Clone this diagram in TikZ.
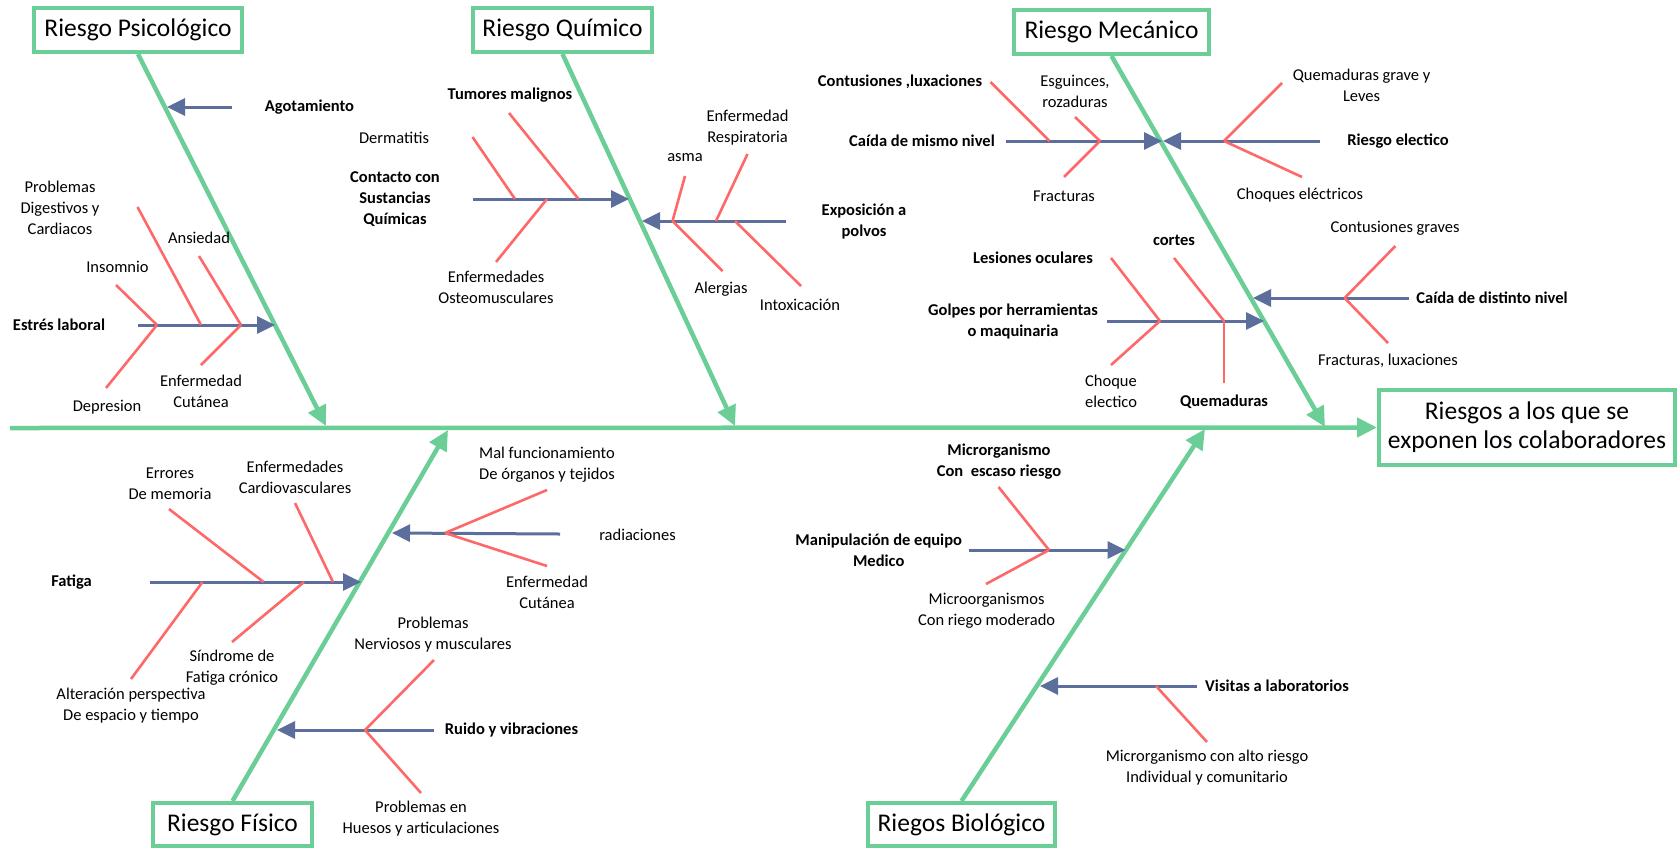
\documentclass[tikz,border=0pt]{standalone}
\usepackage{fontspec}
\setmainfont{Carlito}
\usetikzlibrary{arrows.meta}
\definecolor{bonegreen}{RGB}{106,206,150}
\definecolor{causeblue}{RGB}{92,110,155}
\definecolor{subred}{RGB}{255,104,104}
\tikzset{
  catbox/.style={draw=bonegreen, line width=4pt, fill=white, inner sep=0pt, font=\fontsize{25.5}{29}\selectfont, align=center},
  bone/.style={draw=bonegreen, line width=4.5pt, -{Triangle[length=20pt,width=19pt]}},
  cause/.style={draw=causeblue, line width=3pt, -{Triangle[length=18pt,width=17pt]}},
  sub/.style={draw=subred, line width=2.6pt},
  lbl/.style={font=\fontsize{16.5}{21}\selectfont, align=center, inner sep=0pt},
  blbl/.style={font=\bfseries\fontsize{16.5}{21}\selectfont, align=center, inner sep=0pt},
}
\begin{document}
\begin{tikzpicture}[x=1pt,y=-1pt]
\useasboundingbox (0,0) rectangle (1677,847);
% ---------- category boxes ----------
\node[catbox, minimum width=208pt, minimum height=44pt] (psi) at (138,30) {Riesgo Psicológico};
\node[catbox, minimum width=179pt, minimum height=44pt] (qui) at (562.5,30) {Riesgo Químico};
\node[catbox, minimum width=195pt, minimum height=44pt] (mec) at (1111.5,32) {Riesgo Mecánico};
\node[catbox, minimum width=159pt, minimum height=43pt] (fis) at (232.5,824.5) {Riesgo Físico};
\node[catbox, minimum width=187pt, minimum height=43pt] (bio) at (961.5,824.5) {Riegos Biológico};
\node[catbox, minimum width=296pt, minimum height=75pt] (main) at (1527,427.5) {Riesgos a los que se\\exponen los colaboradores};
% ---------- spine and bones ----------
\coordinate (spL) at (10,428);
\coordinate (psiT) at (326,426);
\coordinate (quiT) at (735,426);
\coordinate (mecT) at (1325,427);
\coordinate (fisT) at (448,430);
\coordinate (bioT) at (1205,429);
\draw[bone] (spL) -- (main.west);
\draw[bone] (psi.south) -- (psiT);
\draw[bone] (qui.south) -- (quiT);
\draw[bone] (mec.south) -- (mecT);
\draw[bone] (fis.north) -- (fisT);
\draw[bone] (bio.north) -- (bioT);
% ================= Psicologico =================
\node[blbl] (ago) at (309.5,107) {Agotamiento};
\coordinate (agoS) at (232,107); \coordinate (agoT) at (167,107);
\draw[cause] (agoS) -- (agoT);
\node[blbl] (est) at (59,325) {Estrés laboral};
\coordinate (estS) at (137.5,325); \coordinate (estT) at (275,325);
\draw[cause] (estS) -- (estT);
\coordinate (j1) at (157,325); \coordinate (j2) at (201,325); \coordinate (j3) at (241,325);
\coordinate (insE) at (116,285); \coordinate (depE) at (106,388);
\coordinate (pdcE) at (137.5,207); \coordinate (ansE) at (199,256); \coordinate (ecuE) at (201,365);
\draw[sub] (j1) -- (insE); \draw[sub] (j1) -- (depE);
\draw[sub] (j2) -- (pdcE);
\draw[sub] (j3) -- (ansE); \draw[sub] (j3) -- (ecuE);
\node[lbl] (ins) at (117.5,267) {Insomnio};
\node[lbl] (dep) at (107,407) {Depresion};
\node[lbl] (pdc) at (60,208) {Problemas\\Digestivos y\\Cardiacos};
\node[lbl] (ans) at (199,238) {Ansiedad};
\node[lbl] (ecu) at (201,391) {Enfermedad\\Cutánea};
% ================= Quimico =================
\node[blbl] (con) at (395,199) {Contacto con\\Sustancias\\Químicas};
\coordinate (conS) at (473,199); \coordinate (conT) at (629,199);
\draw[cause] (conS) -- (conT);
\coordinate (k1) at (515,199); \coordinate (k2) at (547,199); \coordinate (k3) at (578.5,199);
\coordinate (derE) at (472.5,137); \coordinate (eosE) at (496,262); \coordinate (tumE) at (509,113);
\draw[sub] (k1) -- (derE); \draw[sub] (k2) -- (eosE); \draw[sub] (k3) -- (tumE);
\node[lbl] (der) at (394,138) {Dermatitis};
\node[lbl] (eos) at (496,287.5) {Enfermedades\\Osteomusculares};
\node[blbl] (tum) at (510,95) {Tumores malignos};
\node[blbl] (pol) at (864,221.5) {Exposición a\\polvos};
\coordinate (polS) at (786,221); \coordinate (polT) at (642,221);
\draw[cause] (polS) -- (polT);
\coordinate (m1) at (672.5,221); \coordinate (m2) at (716,221); \coordinate (m3) at (735,221);
\coordinate (asmE) at (685,176); \coordinate (aleE) at (722.5,271);
\coordinate (resE) at (747.5,154); \coordinate (intE) at (801,286);
\draw[sub] (m1) -- (asmE); \draw[sub] (m1) -- (aleE);
\draw[sub] (m2) -- (resE); \draw[sub] (m3) -- (intE);
\node[lbl] (asm) at (685,158) {asma};
\node[lbl] (ale) at (721,289) {Alergias};
\node[lbl] (res) at (747.5,128) {Enfermedad\\Respiratoria};
\node[lbl] (int) at (800,305) {Intoxicación};
% ================= Mecanico =================
\node[blbl] (cmn) at (922,141) {Caída de mismo nivel};
\coordinate (cmnS) at (1006,141); \coordinate (cmnT) at (1162,141);
\draw[cause] (cmnS) -- (cmnT);
\coordinate (n1) at (1049.5,141); \coordinate (n2) at (1100,141);
\coordinate (cluE) at (990.5,82); \coordinate (esgE) at (1075,117); \coordinate (fraE) at (1064,177);
\draw[sub] (n1) -- (cluE); \draw[sub] (n2) -- (esgE); \draw[sub] (n2) -- (fraE);
\node[blbl] (clu) at (900,82) {Contusiones ,luxaciones};
\node[lbl] (esg) at (1075,91.5) {Esguinces,\\rozaduras};
\node[lbl] (fra) at (1064,196) {Fracturas};
\node[blbl] (rel) at (1398,141) {Riesgo electico};
\coordinate (relS) at (1320,141); \coordinate (relT) at (1163,141);
\draw[cause] (relS) -- (relT);
\coordinate (p1) at (1224,141);
\coordinate (qgvE) at (1282,83); \coordinate (choE) at (1302,177);
\draw[sub] (p1) -- (qgvE); \draw[sub] (p1) -- (choE);
\node[lbl] (qgv) at (1361.5,85) {Quemaduras grave y\\Leves};
\node[lbl] (cho) at (1300,195) {Choques eléctricos};
\node[blbl] (cdn) at (1492,298) {Caída de distinto nivel};
\coordinate (cdnS) at (1409,298); \coordinate (cdnT) at (1253,298);
\draw[cause] (cdnS) -- (cdnT);
\coordinate (q1) at (1344.6,298);
\coordinate (cgrE) at (1395.4,246); \coordinate (flxE) at (1388,343);
\draw[sub] (q1) -- (cgrE); \draw[sub] (q1) -- (flxE);
\node[lbl] (cgr) at (1395,228) {Contusiones graves};
\node[lbl] (flx) at (1388,361) {Fracturas, luxaciones};
\node[blbl] (gol) at (1013,321.5) {Golpes por herramientas\\o maquinaria};
\coordinate (golS) at (1107,321); \coordinate (golT) at (1264,321);
\draw[cause] (golS) -- (golT);
\coordinate (r1) at (1160,321); \coordinate (r2) at (1224,321);
\coordinate (lesE) at (1111,258); \coordinate (cheE) at (1111,365);
\coordinate (corE) at (1174,258); \coordinate (queE) at (1224,383);
\draw[sub] (r1) -- (lesE); \draw[sub] (r1) -- (cheE);
\draw[sub] (r2) -- (corE); \draw[sub] (r2) -- (queE);
\node[blbl] (les) at (1033,258) {Lesiones oculares};
\node[lbl] (che) at (1111,391) {Choque\\electico};
\node[blbl] (cor) at (1174,240) {cortes};
\node[blbl] (que) at (1224,402) {Quemaduras};
% ================= Fisico =================
\node[blbl] (fat) at (71.5,582) {Fatiga};
\coordinate (fatS) at (150,582); \coordinate (fatT) at (361,582);
\draw[cause] (fatS) -- (fatT);
\coordinate (s1) at (263.6,582); \coordinate (s2) at (333,582);
\coordinate (s3) at (202.5,582); \coordinate (s4) at (304,582);
\coordinate (errE) at (169,509); \coordinate (ecaE) at (295,503);
\coordinate (altE) at (131,679); \coordinate (sfcE) at (232,642);
\draw[sub] (s1) -- (errE); \draw[sub] (s2) -- (ecaE);
\draw[sub] (s3) -- (altE); \draw[sub] (s4) -- (sfcE);
\node[lbl] (err) at (170,483.5) {Errores\\De memoria};
\node[lbl] (eca) at (295,477.5) {Enfermedades\\Cardiovasculares};
\node[lbl] (alt) at (131,705.5) {Alteración perspectiva\\De espacio y tiempo};
\node[lbl] (sfc) at (232,667.5) {Síndrome de\\Fatiga crónico};
\node[lbl] (rad) at (637.5,535) {radiaciones};
\coordinate (radS) at (560,534); \coordinate (radT) at (392,533);
\draw[cause] (radS) -- (radT);
\coordinate (t1) at (445,533);
\coordinate (malE) at (547,490); \coordinate (ecrE) at (547,566);
\draw[sub] (t1) -- (malE); \draw[sub] (t1) -- (ecrE);
\node[lbl] (mal) at (547,465) {Mal funcionamiento\\De órganos y tejidos};
\node[lbl] (ecr) at (547,592) {Enfermedad\\Cutánea};
\node[blbl] (rui) at (511.5,730) {Ruido y vibraciones};
\coordinate (ruiS) at (434,730); \coordinate (ruiT) at (277,730);
\draw[cause] (ruiS) -- (ruiT);
\coordinate (u1) at (365,730);
\coordinate (pnmE) at (434,660); \coordinate (pheE) at (421,793);
\draw[sub] (u1) -- (pnmE); \draw[sub] (u1) -- (pheE);
\node[lbl] (pnm) at (433,635) {Problemas\\Nerviosos y musculares};
\node[lbl] (phe) at (421,818.5) {Problemas en\\Huesos y articulaciones};
% ================= Biologico =================
\node[blbl] (man) at (878.7,550) {Manipulación de equipo\\Medico};
\coordinate (manS) at (969,550); \coordinate (manT) at (1125.5,550);
\draw[cause] (manS) -- (manT);
\coordinate (v1) at (1049,550);
\coordinate (mesE) at (998.5,487); \coordinate (mmoE) at (986,584);
\draw[sub] (v1) -- (mesE); \draw[sub] (v1) -- (mmoE);
\node[blbl] (mes) at (999,461.5) {Microrganismo\\Con\ \ escaso riesgo};
\node[lbl] (mmo) at (986.6,610.5) {Microorganismos\\Con riego moderado};
\node[blbl] (vis) at (1277,686) {Visitas a laboratorios};
\coordinate (visS) at (1197,686); \coordinate (visT) at (1040,686);
\draw[cause] (visS) -- (visT);
\coordinate (w1) at (1156,686); \coordinate (marE) at (1207,742);
\draw[sub] (w1) -- (marE);
\node[lbl] (mar) at (1207,767.5) {Microrganismo con alto riesgo\\Individual y comunitario};
\end{tikzpicture}
\end{document}
